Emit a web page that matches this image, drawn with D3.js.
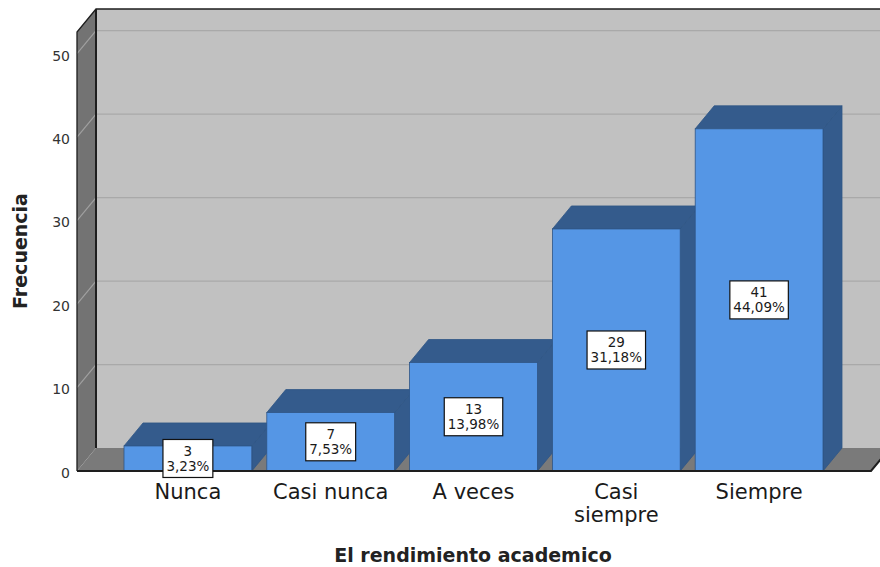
<!DOCTYPE html>
<html>
<head>
<meta charset="utf-8">
<script src="https://cdn.jsdelivr.net/npm/d3@7"></script>
<style>
  html, body { margin: 0; padding: 0; background: #ffffff; }
  svg { display: block; }
</style>
</head>
<body>
<svg id="chart" width="880" height="567"></svg>
<script>
// Frequency of responses for "El rendimiento academico"
const categories = ["Nunca", "Casi nunca", "A veces", "Casi siempre", "Siempre"];
const counts = [3, 7, 13, 29, 41];
const yTicks = [0, 10, 20, 30, 40, 50];
const xTitle = "El rendimiento academico";
const yTitle = "Frecuencia";

const total = d3.sum(counts);
const pctLabel = v => d3.format(".2f")(v / total * 100).replace(".", ",") + "%";

const svg = d3.select("#chart");
const font = "'DejaVu Sans', Verdana, sans-serif";

// front plane and 3D depth offset
const plane = { left: 77, right: 871, bottom: 471, top: 32 };
const depth = { dx: 19, dy: -23 };

const y = d3.scaleLinear().domain([0, 52.6]).range([plane.bottom, plane.top]);
const x = d3.scaleBand().domain(categories).range([124, 823]).paddingInner(0.105).paddingOuter(0);

const poly = pts => pts.map(p => p.join(",")).join(" ");

// back wall
svg.append("polygon")
  .attr("points", poly([
    [plane.left + depth.dx, plane.top + depth.dy],
    [plane.right + depth.dx, plane.top + depth.dy],
    [plane.right + depth.dx, plane.bottom + depth.dy],
    [plane.left + depth.dx, plane.bottom + depth.dy]]))
  .attr("fill", "#c1c1c1");

// left side wall
svg.append("polygon")
  .attr("points", poly([
    [plane.left, plane.top],
    [plane.left + depth.dx, plane.top + depth.dy],
    [plane.left + depth.dx, plane.bottom + depth.dy],
    [plane.left, plane.bottom]]))
  .attr("fill", "#737373");

// floor
svg.append("polygon")
  .attr("points", poly([
    [plane.left, plane.bottom],
    [plane.left + depth.dx, plane.bottom + depth.dy],
    [plane.right + depth.dx, plane.bottom + depth.dy],
    [plane.right, plane.bottom]]))
  .attr("fill", "#7a7a7a");

// gridlines on back wall and side wall
const grid = svg.append("g");
yTicks.filter(t => t > 0).forEach(t => {
  grid.append("line")
    .attr("x1", plane.left + depth.dx).attr("x2", plane.right + depth.dx)
    .attr("y1", y(t) + depth.dy).attr("y2", y(t) + depth.dy)
    .attr("stroke", "#a9a9a9").attr("stroke-width", 1.2);
  grid.append("line")
    .attr("x1", plane.left).attr("x2", plane.left + depth.dx)
    .attr("y1", y(t)).attr("y2", y(t) + depth.dy)
    .attr("stroke", "#a0a0a0").attr("stroke-width", 1.2);
});

// frame edges
const edge = "#1e1e1e";
svg.append("polyline")
  .attr("points", poly([
    [plane.left, plane.bottom],
    [plane.left, plane.top],
    [plane.left + depth.dx, plane.top + depth.dy],
    [plane.right + depth.dx, plane.top + depth.dy]]))
  .attr("fill", "none").attr("stroke", edge).attr("stroke-width", 1.3);
svg.append("line")
  .attr("x1", plane.left + depth.dx).attr("x2", plane.left + depth.dx)
  .attr("y1", plane.top + depth.dy).attr("y2", plane.bottom + depth.dy)
  .attr("stroke", edge).attr("stroke-width", 2);
svg.append("polyline")
  .attr("points", poly([
    [plane.left, plane.bottom],
    [plane.right, plane.bottom],
    [plane.right + depth.dx, plane.bottom + depth.dy]]))
  .attr("fill", "none").attr("stroke", edge).attr("stroke-width", 2);

// bars
const front = "#5596e5", dark = "#345b8c", border = "#2f5585";
const bars = svg.append("g").selectAll("g").data(categories).join("g");
bars.each(function (c, i) {
  const g = d3.select(this);
  const x0 = x(c), w = x.bandwidth(), yt = y(counts[i]), yb = y(0);
  g.append("polygon")
    .attr("points", poly([[x0 + w, yt], [x0 + w + depth.dx, yt + depth.dy],
      [x0 + w + depth.dx, yb + depth.dy], [x0 + w, yb]]))
    .attr("fill", dark).attr("stroke", border).attr("stroke-width", 0.8);
  g.append("polygon")
    .attr("points", poly([[x0, yt], [x0 + depth.dx, yt + depth.dy],
      [x0 + w + depth.dx, yt + depth.dy], [x0 + w, yt]]))
    .attr("fill", dark).attr("stroke", border).attr("stroke-width", 0.8);
  g.append("rect")
    .attr("x", x0).attr("y", yt).attr("width", w).attr("height", yb - yt)
    .attr("fill", front).attr("stroke", border).attr("stroke-width", 0.8);
});

// redraw the floor's front edge over bar bottoms
svg.append("line")
  .attr("x1", plane.left).attr("x2", plane.right)
  .attr("y1", plane.bottom).attr("y2", plane.bottom)
  .attr("stroke", edge).attr("stroke-width", 2);

// value labels
const labels = svg.append("g");
categories.forEach((c, i) => {
  const cx = x(c) + x.bandwidth() / 2;
  const cy = (y(counts[i]) + y(0)) / 2;
  const g = labels.append("g").attr("transform", `translate(${cx},${cy})`);
  const box = g.append("rect");
  const t1 = g.append("text").attr("y", -2.5).text(counts[i]);
  const t2 = g.append("text").attr("y", 12.5).text(pctLabel(counts[i]));
  g.selectAll("text")
    .attr("text-anchor", "middle")
    .attr("font-family", font).attr("font-size", 13.5).attr("fill", "#1a1a1a");
  const w = Math.max(t1.node().getComputedTextLength(), t2.node().getComputedTextLength()) + 7;
  box.attr("x", -w / 2).attr("y", -19).attr("width", w).attr("height", 38)
    .attr("fill", "#ffffff").attr("stroke", "#111").attr("stroke-width", 1.2);
});

// y axis tick labels
const yAxis = d3.axisLeft(y).tickValues(yTicks).tickSize(0).tickPadding(7).tickFormat(d3.format("d"));
const ya = svg.append("g").attr("transform", `translate(${plane.left},0)`).call(yAxis);
ya.select(".domain").remove();
ya.selectAll("text").attr("font-family", font).attr("font-size", 14).attr("fill", "#333").attr("dy", "0.45em");

// category labels
const xl = svg.append("g");
categories.forEach(c => {
  const words = c === "Casi siempre" ? ["Casi", "siempre"] : [c];
  const t = xl.append("text")
    .attr("x", x(c) + x.bandwidth() / 2).attr("y", 499)
    .attr("text-anchor", "middle")
    .attr("font-family", font).attr("font-size", 21).attr("fill", "#1a1a1a");
  words.forEach((w, k) => t.append("tspan").attr("x", x(c) + x.bandwidth() / 2).attr("dy", k ? 23 : 0).text(w));
});

// axis titles
svg.append("text")
  .attr("x", 473).attr("y", 562)
  .attr("text-anchor", "middle")
  .attr("font-family", font).attr("font-size", 19).attr("font-weight", "bold").attr("fill", "#222")
  .text(xTitle);
svg.append("text")
  .attr("transform", "translate(27,251) rotate(-90)")
  .attr("text-anchor", "middle")
  .attr("font-family", font).attr("font-size", 19).attr("font-weight", "bold").attr("fill", "#222")
  .text(yTitle);
</script>
</body>
</html>
